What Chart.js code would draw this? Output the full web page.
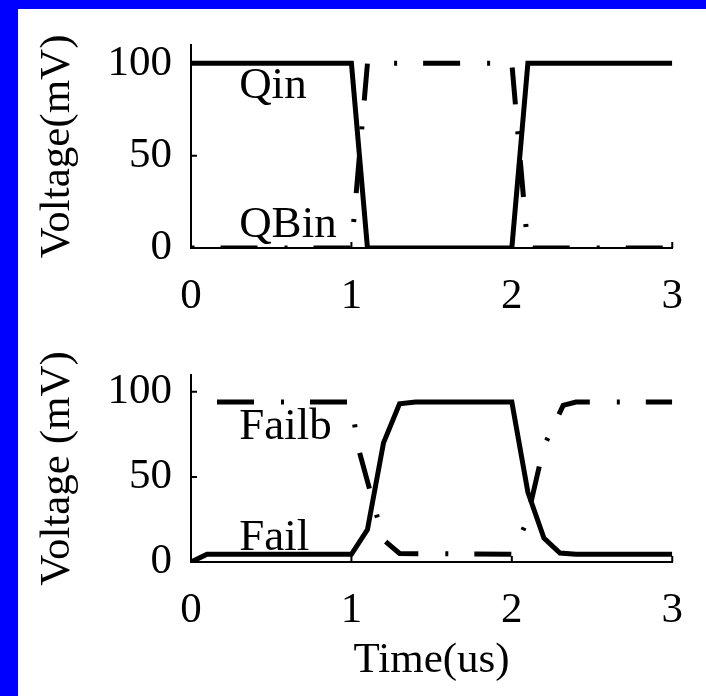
<!DOCTYPE html>
<html>
<head>
<meta charset="utf-8">
<script src="https://cdn.jsdelivr.net/npm/chart.js@4"></script>
<style>
  html, body { margin: 0; padding: 0; background: #fff; }
  body { width: 706px; height: 696px; position: relative; overflow: hidden; }
  .frame-left { position: absolute; left: 0; top: 0; width: 18px; height: 696px; background: #0000ff; }
  .frame-top { position: absolute; left: 0; top: 0; width: 706px; height: 9px; background: #0000ff; }
  canvas { position: absolute; left: 0; }
  #topChart { top: 0; width: 706px; height: 330px; }
  #bottomChart { top: 330px; width: 706px; height: 366px; }
</style>
</head>
<body>
<div class="frame-left"></div>
<div class="frame-top"></div>
<canvas id="topChart" width="706" height="330"></canvas>
<canvas id="bottomChart" width="706" height="366"></canvas>
<script>
const X_TICKS = [0, 1, 2, 3];
const Y_TICKS = [0, 50, 100];

// upper panel: input pair
const qTime = [0, 1.0, 1.1, 2.0, 2.1, 3.0];
const qin = [100, 100, 0, 0, 100, 100];
const qbin = [0, 0, 100, 100, 0, 0];

// lower panel: fail outputs
const failTime = [0, 0.1, 1.0, 1.1, 1.2, 1.3, 1.4, 2.0, 2.1, 2.2, 2.3, 2.4, 3.0];
const fail = [0, 4.5, 4.5, 19, 70, 93, 94, 94, 41, 14, 5.3, 4.5, 4.5];
const failbTime = [0, 1.0, 1.04, 1.2, 1.3, 2.0, 2.09, 2.2, 2.32, 2.4, 3.0];
const failb = [94, 94, 68, 13, 5, 4.5, 23, 68, 92, 94, 94];

const FONT = { family: '"Liberation Serif", "Times New Roman", serif', size: 43 };
const LABEL_SIZE = 45;
const DASH_DOT = [37, 27, 3, 26];
const TICK_LEN = 6;

const toPoints = (xs, ys) => xs.map((x, i) => ({ x, y: ys[i] }));

// MATLAB-style ticks pointing into the plot
const inwardTicks = {
  id: "inwardTicks",
  beforeDatasetsDraw(chart) {
    const { ctx, chartArea, scales: { x, y } } = chart;
    ctx.save();
    ctx.strokeStyle = "#000";
    ctx.lineWidth = 2;
    ctx.beginPath();
    for (const t of x.ticks) {
      const px = x.getPixelForValue(t.value);
      ctx.moveTo(px, chartArea.bottom);
      ctx.lineTo(px, chartArea.bottom - TICK_LEN);
    }
    for (const t of y.ticks) {
      const py = y.getPixelForValue(t.value);
      ctx.moveTo(chartArea.left, py);
      ctx.lineTo(chartArea.left + TICK_LEN, py);
    }
    ctx.stroke();
    ctx.restore();
  },
};

// text labels placed in data units
const curveLabels = {
  id: "curveLabels",
  afterDatasetsDraw(chart, args, opts) {
    const { ctx, scales: { x, y } } = chart;
    ctx.save();
    ctx.font = `${LABEL_SIZE}px ${FONT.family}`;
    ctx.fillStyle = "#000";
    ctx.textAlign = "left";
    ctx.textBaseline = "alphabetic";
    for (const l of opts.items || []) {
      ctx.fillText(l.text, x.getPixelForValue(l.x), y.getPixelForValue(l.y));
    }
    ctx.restore();
  },
};

function lineSet(label, data, dashed, offset) {
  return {
    label,
    data,
    borderColor: "#000",
    borderWidth: 5,
    borderDash: dashed ? DASH_DOT : [],
    borderDashOffset: offset || 0,
    borderCapStyle: "butt",
    borderJoinStyle: "miter",
    pointRadius: 0,
    tension: 0,
    fill: false,
  };
}

function makeScales(yTitle, xTitle, xHeight) {
  return {
    x: {
      type: "linear",
      min: 0,
      max: 3,
      afterBuildTicks: (s) => { s.ticks = X_TICKS.map((v) => ({ value: v })); },
      afterFit: (s) => { s.height = xHeight; },
      grid: { display: false, drawTicks: false },
      border: { display: true, color: "#000", width: 2 },
      ticks: { color: "#000", font: FONT, padding: 23, maxRotation: 0, autoSkip: false },
      title: xTitle
        ? { display: true, text: xTitle, color: "#000", font: FONT, padding: { top: 0, bottom: 9 } }
        : { display: false },
    },
    y: {
      type: "linear",
      min: 0,
      max: 110,
      afterBuildTicks: (s) => { s.ticks = Y_TICKS.map((v) => ({ value: v })); },
      afterFit: (s) => { s.width = 191; },
      grid: { display: false, drawTicks: false },
      border: { display: true, color: "#000", width: 2 },
      ticks: { color: "#000", font: FONT, padding: 19, autoSkip: false },
      title: { display: true, text: yTitle, color: "#000", font: FONT, padding: { top: 32, bottom: 0 } },
    },
  };
}

new Chart(document.getElementById("topChart"), {
  type: "line",
  data: {
    datasets: [
      lineSet("Qin", toPoints(qTime, qin), false),
      lineSet("QBin", toPoints(qTime, qbin), true, 63.5),
    ],
  },
  options: {
    responsive: false,
    animation: false,
    layout: { padding: { top: 40, right: 29, left: 0, bottom: 0 } },
    scales: makeScales("Voltage(mV)", null, 82),
    plugins: {
      legend: { display: false },
      tooltip: { enabled: false },
      curveLabels: { items: [{ text: "Qin", x: 0.3, y: 81 }, { text: "QBin", x: 0.3, y: 6 }] },
    },
  },
  plugins: [inwardTicks, curveLabels],
});

new Chart(document.getElementById("bottomChart"), {
  type: "line",
  data: {
    datasets: [
      lineSet("Fail", toPoints(failTime, fail), false),
      lineSet("Failb", toPoints(failbTime, failb), true, 67),
    ],
  },
  options: {
    responsive: false,
    animation: false,
    layout: { padding: { top: 23, right: 29, left: 0, bottom: 0 } },
    scales: makeScales("Voltage (mV)", "Time(us)", 134),
    plugins: {
      legend: { display: false },
      tooltip: { enabled: false },
      curveLabels: { items: [{ text: "Failb", x: 0.3, y: 72 }, { text: "Fail", x: 0.3, y: 7 }] },
    },
  },
  plugins: [inwardTicks, curveLabels],
});
</script>
</body>
</html>
